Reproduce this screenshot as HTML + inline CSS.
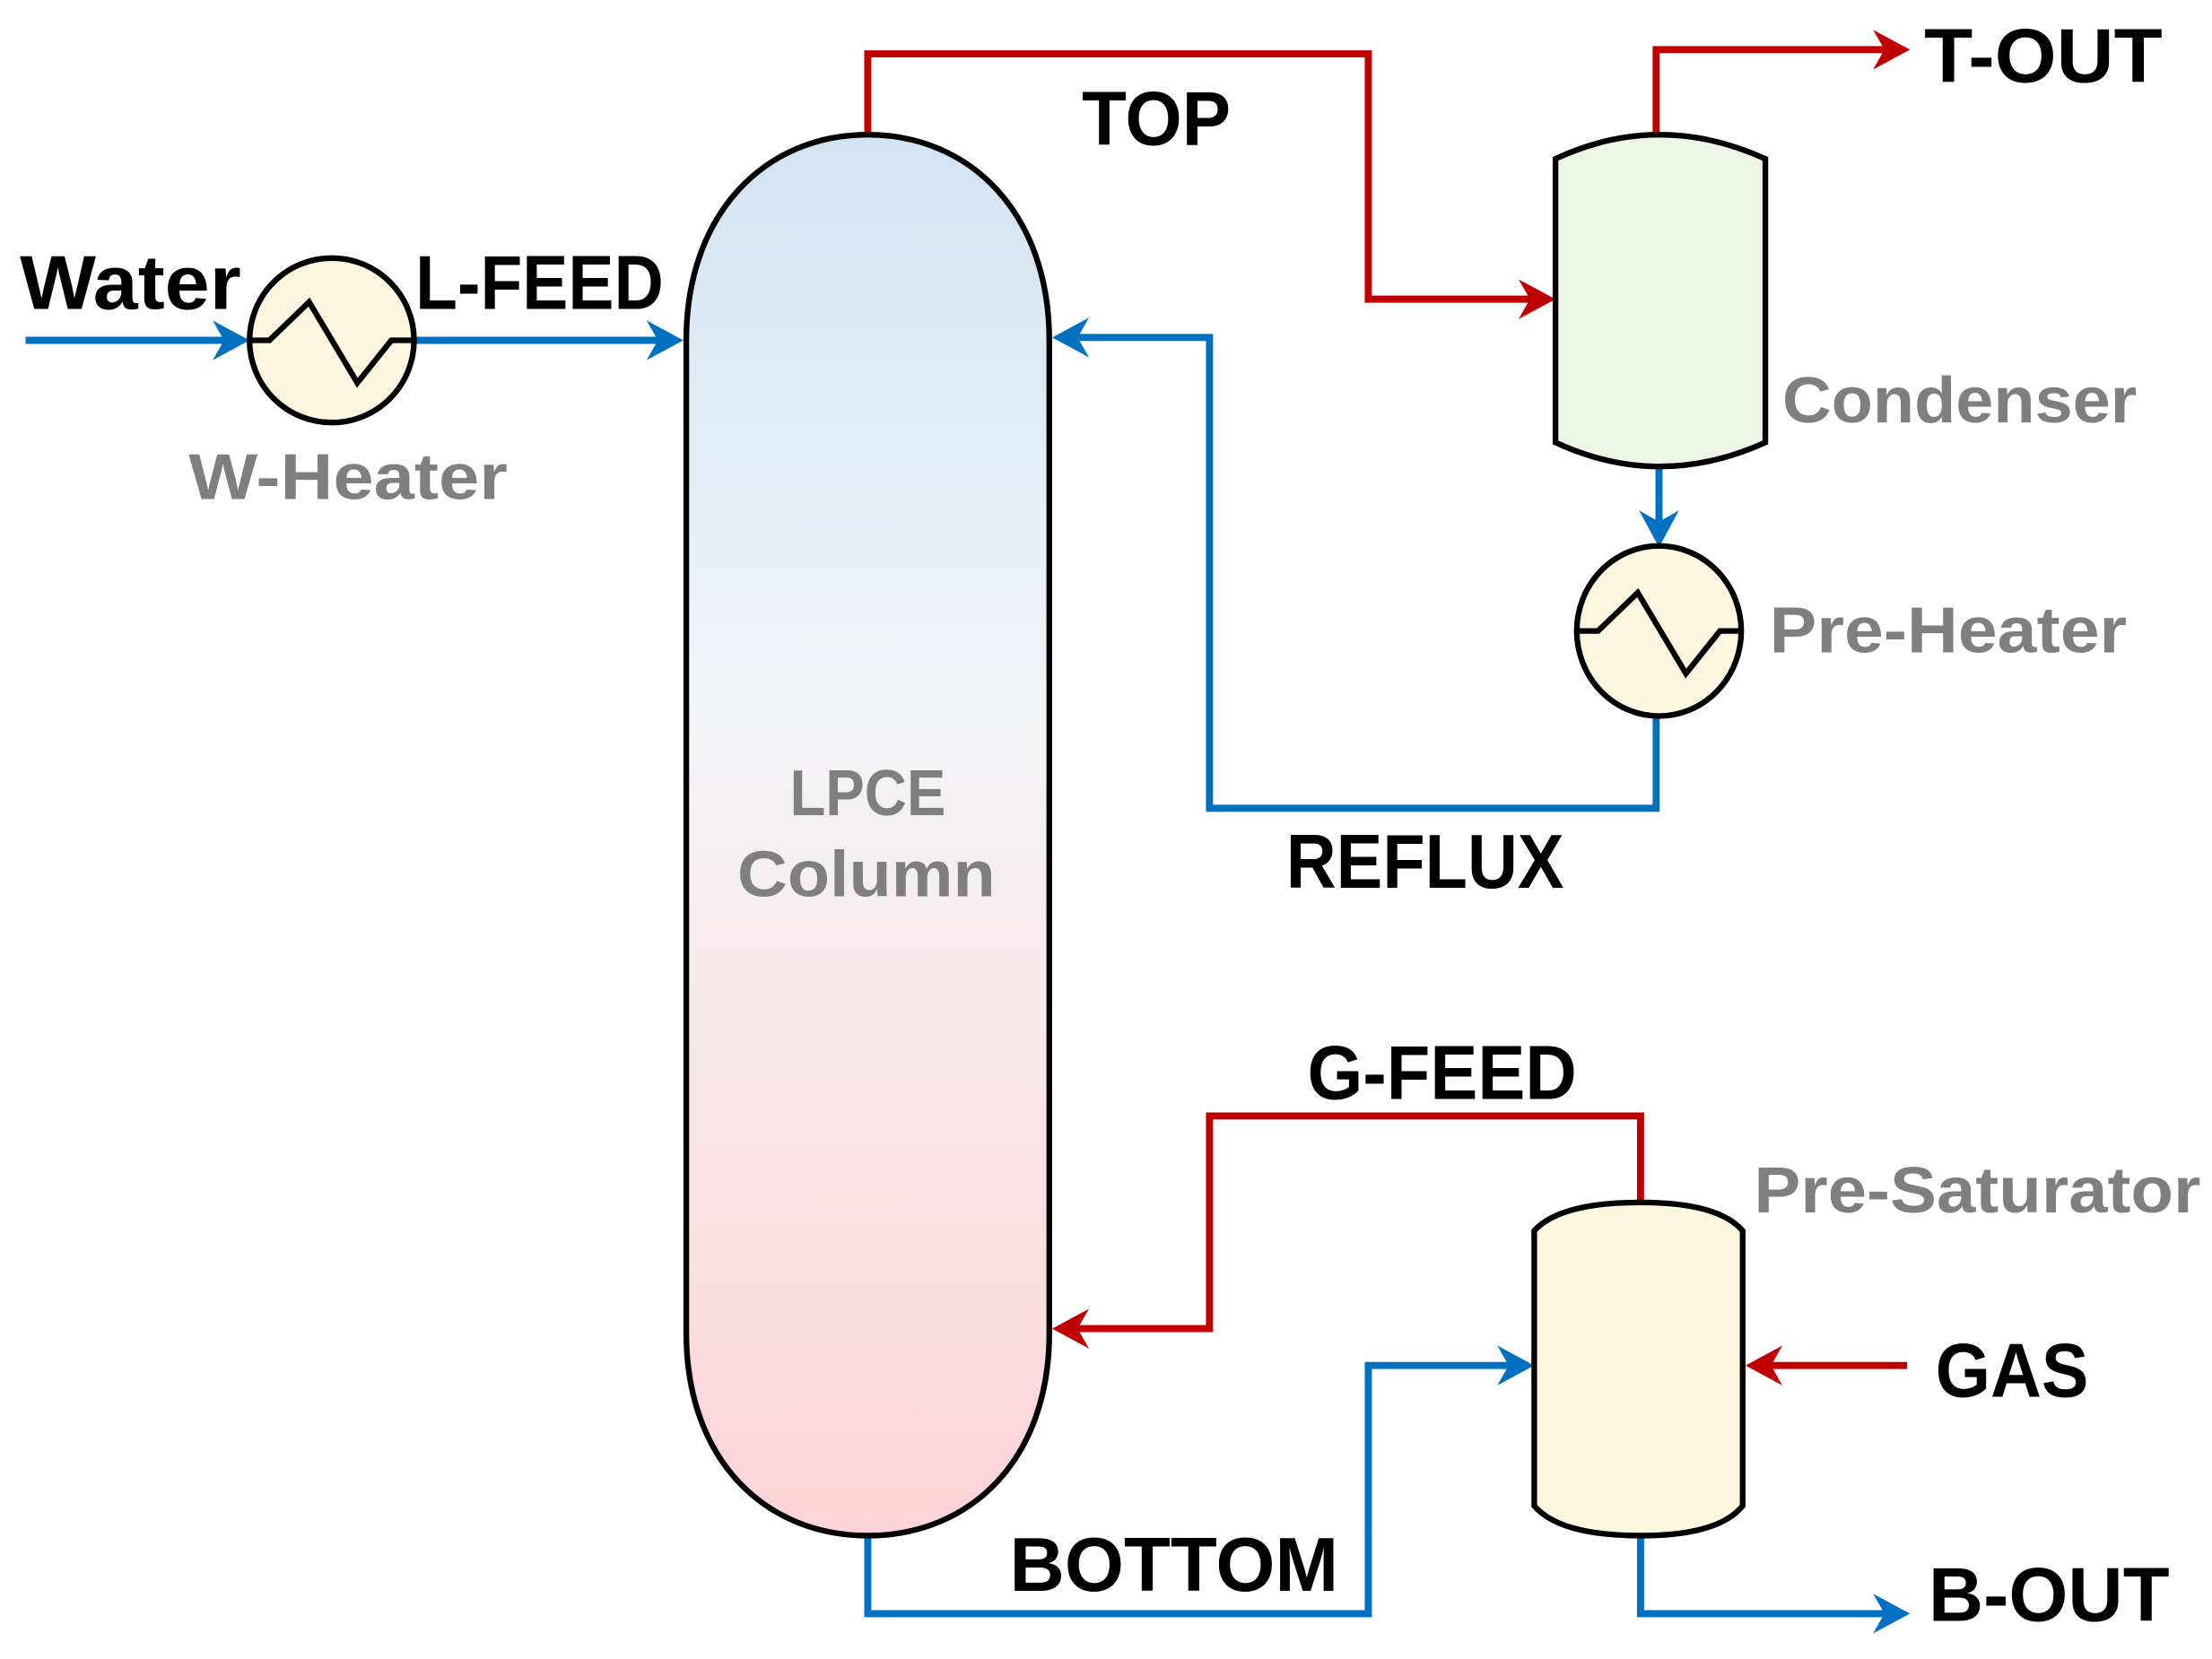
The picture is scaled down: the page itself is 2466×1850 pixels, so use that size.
<!DOCTYPE html>
<html><head><meta charset="utf-8"><style>
html,body{margin:0;padding:0;background:#fff;}
svg{display:block;}
text{font-family:"Liberation Sans",sans-serif;font-weight:bold;}
.lb{fill:#000;font-size:54px;}
.lg{fill:#7f7f7f;font-size:46px;}
</style></head><body>
<svg width="2466" height="1850" viewBox="0 0 1560 1170" preserveAspectRatio="none" xmlns="http://www.w3.org/2000/svg">
<defs>
<linearGradient id="cg" x1="0" y1="0" x2="0" y2="1">
<stop offset="0" stop-color="#d2e3f2"/>
<stop offset="0.42" stop-color="#f3f4f6"/>
<stop offset="1" stop-color="#fdd3d7"/>
</linearGradient>
</defs>
<g fill="none" stroke-linejoin="miter" stroke-width="5">
<!-- blue lines -->
<polyline points="18,240 170,240" stroke="#0070c0"/>
<polyline points="293,240 474,240" stroke="#0070c0"/>
<polyline points="1170,328 1170,380" stroke="#0070c0"/>
<polyline points="1168,505 1168,570 853,570 853,238 748,238" stroke="#0070c0"/>
<polyline points="612,1080 612,1138 965,1138 965,963 1075,963" stroke="#0070c0"/>
<polyline points="1157,1080 1157,1138 1340,1138" stroke="#0070c0"/>
<!-- red lines -->
<polyline points="612,97 612,38 965,38 965,211 1090,211" stroke="#c00000"/>
<polyline points="1168,97 1168,35 1340,35" stroke="#c00000"/>
<polyline points="1157,850 1157,787 853,787 853,937 748,937" stroke="#c00000"/>
<polyline points="1345,963 1236,963" stroke="#c00000"/>
</g>
<!-- arrowheads -->
<g fill="#0070c0">
<polygon points="176,240 150,226 158,240 150,254"/>
<polygon points="482,240 456,226 464,240 456,254"/>
<polygon points="742,238 768,224 760,238 768,252"/>
<polygon points="1170,386 1156,360 1170,368 1184,360"/>
<polygon points="1082,963 1056,949 1064,963 1056,977"/>
<polygon points="1347,1138 1321,1124 1329,1138 1321,1152"/>
</g>
<g fill="#c00000">
<polygon points="1097,211 1071,197 1079,211 1071,225"/>
<polygon points="1347,35 1321,21 1329,35 1321,49"/>
<polygon points="742,937 768,923 760,937 768,951"/>
<polygon points="1231,963 1257,949 1249,963 1257,977"/>
</g>
<!-- column -->
<path d="M484,240 C484,150 540,95 612,95 C684,95 740,150 740,240 L740,940 C740,1030 684,1083 612,1083 C540,1083 484,1030 484,940 Z" fill="url(#cg)" stroke="#000" stroke-width="4"/>
<!-- condenser -->
<path d="M1097,112 Q1170,78 1245,112 L1245,312 Q1170,346 1097,312 Z" fill="#edf5e5" stroke="#000" stroke-width="4"/>
<!-- pre-saturator -->
<path d="M1082,868 Q1100,848 1157,848 Q1212,848 1229,868 L1229,1062 Q1212,1083 1157,1083 Q1100,1083 1082,1062 Z" fill="#fff6df" stroke="#000" stroke-width="4"/>
<!-- heaters -->
<ellipse cx="234" cy="240" rx="58" ry="58" fill="#fff6df" stroke="#000" stroke-width="4"/>
<polyline points="176,240 190,240 218,213 252,270 276,240 293,240" fill="none" stroke="#000" stroke-width="4"/>
<ellipse cx="1170" cy="445" rx="58" ry="60" fill="#fff6df" stroke="#000" stroke-width="4"/>
<polyline points="1112,445 1127,445 1155,418 1189,475 1213,445 1228,445" fill="none" stroke="#000" stroke-width="4"/>
<!-- labels -->
<text class="lb" x="14" y="218" textLength="156" lengthAdjust="spacingAndGlyphs">Water</text>
<text class="lb" x="293" y="218" textLength="175" lengthAdjust="spacingAndGlyphs">L-FEED</text>
<text class="lb" x="763" y="102" textLength="105" lengthAdjust="spacingAndGlyphs">TOP</text>
<text class="lb" x="1357" y="58" textLength="168" lengthAdjust="spacingAndGlyphs">T-OUT</text>
<text class="lb" x="907" y="626" textLength="196" lengthAdjust="spacingAndGlyphs">REFLUX</text>
<text class="lb" x="922" y="775" textLength="190" lengthAdjust="spacingAndGlyphs">G-FEED</text>
<text class="lb" x="1365" y="985" textLength="108" lengthAdjust="spacingAndGlyphs">GAS</text>
<text class="lb" x="712" y="1122" textLength="232" lengthAdjust="spacingAndGlyphs">BOTTOM</text>
<text class="lb" x="1360" y="1143" textLength="170" lengthAdjust="spacingAndGlyphs">B-OUT</text>
<text class="lg" x="133" y="352" textLength="225" lengthAdjust="spacingAndGlyphs">W-Heater</text>
<text class="lg" x="1257" y="298" textLength="250" lengthAdjust="spacingAndGlyphs">Condenser</text>
<text class="lg" x="1248" y="460" textLength="252" lengthAdjust="spacingAndGlyphs">Pre-Heater</text>
<text class="lg" x="1237" y="855" textLength="315" lengthAdjust="spacingAndGlyphs">Pre-Saturator</text>
<text class="lg" x="557" y="575" textLength="110" lengthAdjust="spacingAndGlyphs">LPCE</text>
<text class="lg" x="520" y="632" textLength="182" lengthAdjust="spacingAndGlyphs">Column</text>
</svg>
</body></html>
